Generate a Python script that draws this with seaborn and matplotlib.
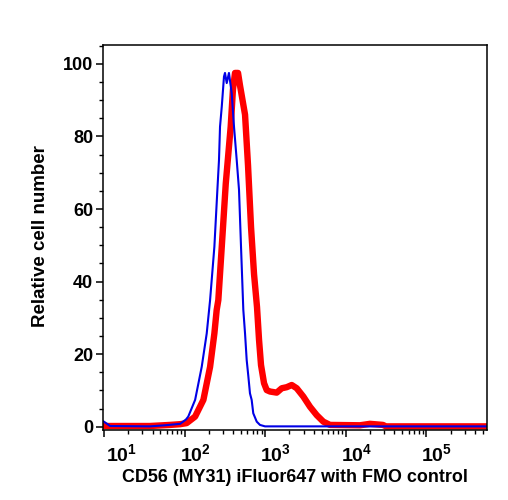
import numpy as np
import pandas as pd
import matplotlib
matplotlib.use("Agg")
import matplotlib.pyplot as plt
import matplotlib.ticker as mticker
import matplotlib.transforms as mtransforms
import seaborn as sns

# ---- data (fluorescence intensity, relative cell number) ----
fmo_x = [9.8, 10.6, 11.9, 37, 57, 88, 104, 111, 135, 163, 188, 207, 234, 255, 267,
         275, 289, 308, 317, 333, 355, 384, 410, 443, 473, 501, 535, 562, 589, 617,
         647, 679, 711, 785, 861, 995, 2700, 565000]
fmo_y = [1.5, 1.0, 0.2, 0.1, 0.4, 0.8, 2.0, 2.8, 7.4, 16.5, 25.7, 34.9, 49.6, 65.3, 73.5,
         82.7, 88.2, 96.5, 97.5, 94.7, 97.5, 91.9, 82.7, 73.5, 65.3, 49.6, 32.2, 25.7, 18.4, 14.0,
         9.2, 7.4, 3.7, 1.4, 0.5, 0.1, 0.1, 0.1]

cd56_x = [9.8, 37, 66, 88, 106, 135, 171, 207, 234, 250, 262, 289, 324, 373, 398, 422,
          460, 487, 562, 612, 667, 727, 791, 838, 887, 967, 1044, 1148, 1390, 1604, 1850,
          2134, 2462, 2974, 3597, 4355, 5260, 6363, 15000, 19950, 28900, 31500, 565000]
cd56_y = [0.2, 0.2, 0.5, 0.7, 1.0, 2.8, 7.4, 16.5, 25.7, 32.2, 34.9, 49.6, 67.0, 82.7, 93.0, 97.5,
          97.5, 94.0, 86.0, 72.0, 55.0, 42.0, 33.0, 24.0, 17.0, 12.0, 10.1, 9.7, 9.4, 10.6, 10.9,
          11.5, 10.6, 8.3, 5.5, 3.2, 1.4, 0.5, 0.4, 0.8, 0.5, 0.1, 0.1]

xtick_vals = [1e1, 1e2, 1e3, 1e4, 1e5]
xtick_labels = [r"$\mathbf{10^{1}}$", r"$\mathbf{10^{2}}$", r"$\mathbf{10^{3}}$",
                r"$\mathbf{10^{4}}$", r"$\mathbf{10^{5}}$"]
ytick_vals = [0, 20, 40, 60, 80, 100]

x_label = "CD56 (MY31) iFluor647 with FMO control"
y_label = "Relative cell number"

# ---- style ----
sns.set_theme(style="ticks")
plt.rcParams["font.family"] = ["Liberation Sans", "DejaVu Sans"]
plt.rcParams["font.weight"] = "bold"
plt.rcParams["mathtext.fontset"] = "custom"
plt.rcParams["mathtext.rm"] = "Liberation Sans:bold"
plt.rcParams["mathtext.bf"] = "Liberation Sans:bold"
for k in ["text.color", "axes.labelcolor", "xtick.color", "ytick.color", "axes.edgecolor"]:
    plt.rcParams[k] = "black"

fig = plt.figure(figsize=(5.08, 5.00), dpi=100)
ax = fig.add_axes([103.3 / 508, 1 - 430 / 500, (487 - 103.3) / 508, (430 - 45) / 500])

df_red = pd.DataFrame({"x": cd56_x, "y": cd56_y})
df_blue = pd.DataFrame({"x": fmo_x, "y": fmo_y})

sns.lineplot(data=df_red, x="x", y="y", ax=ax, color="#FF0000", linewidth=4.6,
             sort=False, estimator=None, solid_joinstyle="round", solid_capstyle="round")
sns.lineplot(data=df_blue, x="x", y="y", ax=ax, color="#0000E6", linewidth=1.5,
             sort=False, estimator=None)

ax.set_xscale("log")
ax.set_xlim(10 ** 0.991, 10 ** 5.752)
ax.set_ylim(-0.9, 105.2)

ax.xaxis.set_major_locator(mticker.FixedLocator(xtick_vals))
ax.xaxis.set_minor_locator(mticker.LogLocator(base=10, subs=np.arange(2, 10), numticks=50))
ax.xaxis.set_minor_formatter(mticker.NullFormatter())
ax.set_xticklabels(xtick_labels)

ax.yaxis.set_major_locator(mticker.FixedLocator(ytick_vals))
ax.yaxis.set_minor_locator(mticker.MultipleLocator(5))
ax.set_yticklabels([str(v) for v in ytick_vals])

for s in ax.spines.values():
    s.set_linewidth(1.1)
    s.set_color("black")
    s.set_visible(True)

ax.tick_params(axis="both", which="major", direction="out", length=4.7, width=1.1,
               color="black", top=False, right=False)
ax.tick_params(axis="both", which="minor", direction="out", length=2.8, width=1.0,
               color="black", top=False, right=False)
ax.tick_params(axis="y", which="major", labelsize=13, pad=2.5)
ax.tick_params(axis="x", which="major", labelsize=14, pad=4.5)

for i, lab in enumerate(ax.get_xticklabels()):
    lab.set_fontweight("bold")
    dx = 18 / 100 if i == 0 else 10.5 / 100
    lab.set_transform(lab.get_transform() + mtransforms.ScaledTranslation(dx, 0, fig.dpi_scale_trans))
for lab in ax.get_yticklabels():
    lab.set_fontweight("bold")

ax.set_xlabel(x_label, fontsize=12.9, fontweight="bold")
ax.set_ylabel(y_label, fontsize=13.5, fontweight="bold")
ax.xaxis.set_label_coords(0.5, (430 - 478) / 385)
ax.xaxis.label.set_va("center")
ax.yaxis.set_label_coords((41 - 103.3) / 383.7, (430 - 236) / 385)
ax.yaxis.label.set_va("center")

ax.grid(False)
fig.savefig("out.png", dpi=100)
